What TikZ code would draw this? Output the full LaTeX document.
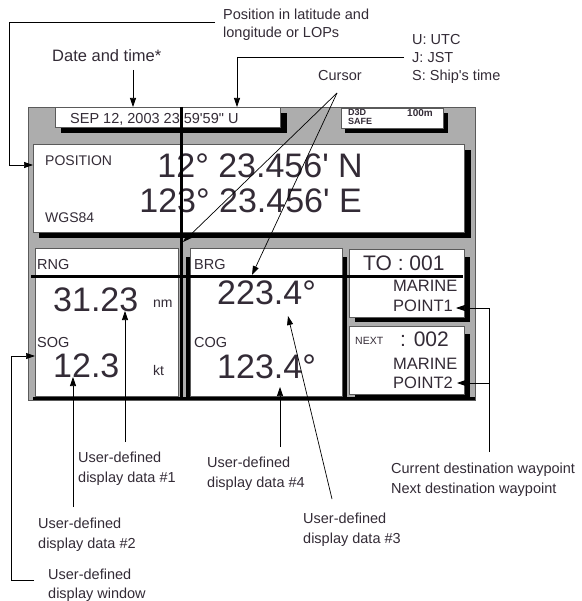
\documentclass[tikz,border=0pt]{standalone}
\usepackage{fontspec}
\setmainfont{Liberation Sans}[Ligatures=TeXOff]
\usetikzlibrary{arrows.meta}
\definecolor{txt}{HTML}{332B36}
\definecolor{fgray}{HTML}{ADADAD}
\definecolor{bord}{HTML}{5A5A5A}
\begin{document}
\begin{tikzpicture}[x=1pt,y=-1pt,
  lbl/.style={font=\fontsize{14.5}{17}\selectfont, text=txt, inner sep=0pt, anchor=base west},
  scr/.style={text=txt, inner sep=0pt, anchor=base west},
  big/.style={font=\fontsize{34}{34}\selectfont, text=txt, inner sep=0pt},
  arr/.style={-{Triangle[length=9pt,width=6pt]}, line width=0.7pt, draw=black},
  ln/.style={line width=0.7pt, draw=black},
  wbox/.style={fill=white, draw=bord, line width=0.6pt},
  shd/.style={fill=black}]
\useasboundingbox (0,0) rectangle (581,601);

% ---- frame ----
\draw[fill=fgray, draw=bord, line width=0.6pt] (28,107) rectangle (475,400);
\fill[shd] (33,396.5) rectangle (475,400);

% date box
\fill[shd] (61,127) rectangle (287,133);
\fill[shd] (280,113) rectangle (287,133);
\draw[wbox] (55,107) rectangle (280,127);
\node[scr, font=\fontsize{14.5}{14.5}\selectfont] (date) at (70,124) {SEP 12, 2003 23:59'59" U};

% D3D box
\fill[shd] (345,128) rectangle (448,133);
\fill[shd] (443,113) rectangle (448,133);
\draw[wbox] (341,108) rectangle (443,128);
\node[scr, font=\fontsize{9}{9}\selectfont\bfseries] (d3d) at (348,116) {D3D};
\node[scr, font=\fontsize{9}{9}\selectfont\bfseries] (safe) at (348,124.8) {SAFE};
\node[scr, font=\fontsize{10}{10}\selectfont\bfseries] (range) at (407,117) {100m};

% position box
\fill[shd] (39,232) rectangle (471,238);
\fill[shd] (464,150) rectangle (471,238);
\draw[wbox] (33,144) rectangle (464,232);
\node[scr, font=\fontsize{14}{14}\selectfont] (postit) at (45,166) {POSITION};
\node[scr, font=\fontsize{14}{14}\selectfont] (datum) at (45,223) {WGS84};
\node[big, anchor=base east] (lat) at (363,177.5) {12° 23.456' N};
\node[big, anchor=base east] (lon) at (362,213) {123° 23.456' E};

% RNG / SOG box
\fill[shd] (186,257) rectangle (190,397);
\draw[wbox] (35,248) rectangle (178,396);
\node[scr, font=\fontsize{14.5}{14.5}\selectfont] (rng) at (37,269) {RNG};
\node[big, anchor=base west] (rngv) at (53,311) {31.23};
\node[scr, font=\fontsize{14}{14}\selectfont] (nm) at (153,307) {nm};
\node[scr, font=\fontsize{14.5}{14.5}\selectfont] (sog) at (37,347) {SOG};
\node[big, anchor=base west] (sogv) at (53,377) {12.3};
\node[scr, font=\fontsize{14}{14}\selectfont] (kt) at (153,375) {kt};

% BRG / COG box
\fill[shd] (342,257) rectangle (347,397);
\draw[wbox] (190,248) rectangle (342,396);
\node[scr, font=\fontsize{14.5}{14.5}\selectfont] (brg) at (194,269) {BRG};
\node[big, anchor=base west] (brgv) at (217,304) {223.4°};
\node[scr, font=\fontsize{14.5}{14.5}\selectfont] (cog) at (194,347) {COG};
\node[big, anchor=base west] (cogv) at (217,378) {123.4°};

% TO box
\fill[shd] (355,317) rectangle (470,322);
\fill[shd] (464,257) rectangle (470,322);
\draw[wbox] (349,249) rectangle (464,317);
\node[scr, font=\fontsize{21}{21}\selectfont] (to) at (363,270) {TO : 001};
\node[scr, font=\fontsize{16.5}{16.5}\selectfont] (m1) at (393,291) {MARINE};
\node[scr, font=\fontsize{16.5}{16.5}\selectfont] (p1) at (393,311) {POINT1};

% NEXT box
\fill[shd] (355,394) rectangle (470,397);
\fill[shd] (464,334) rectangle (470,397);
\draw[wbox] (349,326) rectangle (464,394);
\node[scr, font=\fontsize{10.5}{10.5}\selectfont] (nx) at (355,344) {NEXT};
\node[scr, font=\fontsize{21}{21}\selectfont] (nxv) at (400,346) {: 002};
\node[scr, font=\fontsize{16.5}{16.5}\selectfont] (m2) at (393,369) {MARINE};
\node[scr, font=\fontsize{16.5}{16.5}\selectfont] (p2) at (393,388) {POINT2};

% cursor lines
\draw[line width=3.5pt] (181.5,107) -- (181.5,398);
\draw[line width=3pt] (31,276.5) -- (463,276.5);

% ---- labels ----
\node[lbl] (pos1) at (223,20) {Position in latitude and};
\node[lbl] (pos2) at (223,38) {longitude or LOPs};
\coordinate (posA) at (215,22);
\coordinate (posB) at (9,22);
\coordinate (posC) at (9,165);
\coordinate (posT) at (33,165);
\draw[ln] (posA) -- (posB) -- (posC);
\draw[arr] (posC) -- (posT);

\node[lbl, font=\fontsize{16.5}{16.5}\selectfont] (dt) at (52,62) {Date and time*};
\coordinate (dtA) at (133,70);
\coordinate (dtT) at (133,107);
\draw[arr] (dtA) -- (dtT);

\node[lbl] (u1) at (412,45) {U: UTC};
\node[lbl] (u2) at (412,62.5) {J: JST};
\node[lbl] (u3) at (412,80.5) {S: Ship's time};
\coordinate (uA) at (404,57);
\coordinate (uB) at (237,57);
\coordinate (uT) at (237,107);
\draw[ln] (uA) -- (uB);
\draw[arr] (uB) -- (uT);

\node[lbl] (cur) at (318,81) {Cursor};
\coordinate (curO) at (337,93);
\coordinate (curT1) at (183,242);
\coordinate (curT2) at (252,275);
\draw[arr] (curO) -- (curT1);
\draw[arr] (curO) -- (curT2);

\node[lbl] (d1a) at (78,462) {User-defined};
\node[lbl] (d1b) at (78,482) {display data \#1};
\coordinate (d1A) at (125,442);
\coordinate (d1T) at (125,311);
\draw[arr] (d1A) -- (d1T);

\node[lbl] (d2a) at (38,528) {User-defined};
\node[lbl] (d2b) at (38,548) {display data \#2};
\coordinate (d2A) at (73,507);
\coordinate (d2T) at (73,377);
\draw[arr] (d2A) -- (d2T);

\node[lbl] (wa) at (48,579) {User-defined};
\node[lbl] (wb) at (48,598) {display window};
\coordinate (wA) at (34,580);
\coordinate (wB) at (11,580);
\coordinate (wC) at (11,356);
\coordinate (wT) at (35,356);
\draw[ln] (wA) -- (wB) -- (wC);
\draw[arr] (wC) -- (wT);

\node[lbl] (d4a) at (207,467) {User-defined};
\node[lbl] (d4b) at (207,487) {display data \#4};
\coordinate (d4A) at (280,447);
\coordinate (d4T) at (280,387);
\draw[arr] (d4A) -- (d4T);

\node[lbl] (d3a) at (303,523) {User-defined};
\node[lbl] (d3b) at (303,543) {display data \#3};
\coordinate (d3A) at (332,499);
\coordinate (d3T) at (288,316);
\draw[arr] (d3A) -- (d3T);

\node[lbl] (cw) at (391,473) {Current destination waypoint};
\node[lbl] (nw) at (391,493) {Next destination waypoint};
\coordinate (wpB) at (489,452);
\coordinate (wp1) at (489,308);
\coordinate (wp2) at (489,383);
\coordinate (wpT1) at (456,308);
\coordinate (wpT2) at (457,383);
\draw[ln] (wpB) -- (wp1);
\draw[arr] (wp1) -- (wpT1);
\draw[arr] (wp2) -- (wpT2);
\end{tikzpicture}
\end{document}
